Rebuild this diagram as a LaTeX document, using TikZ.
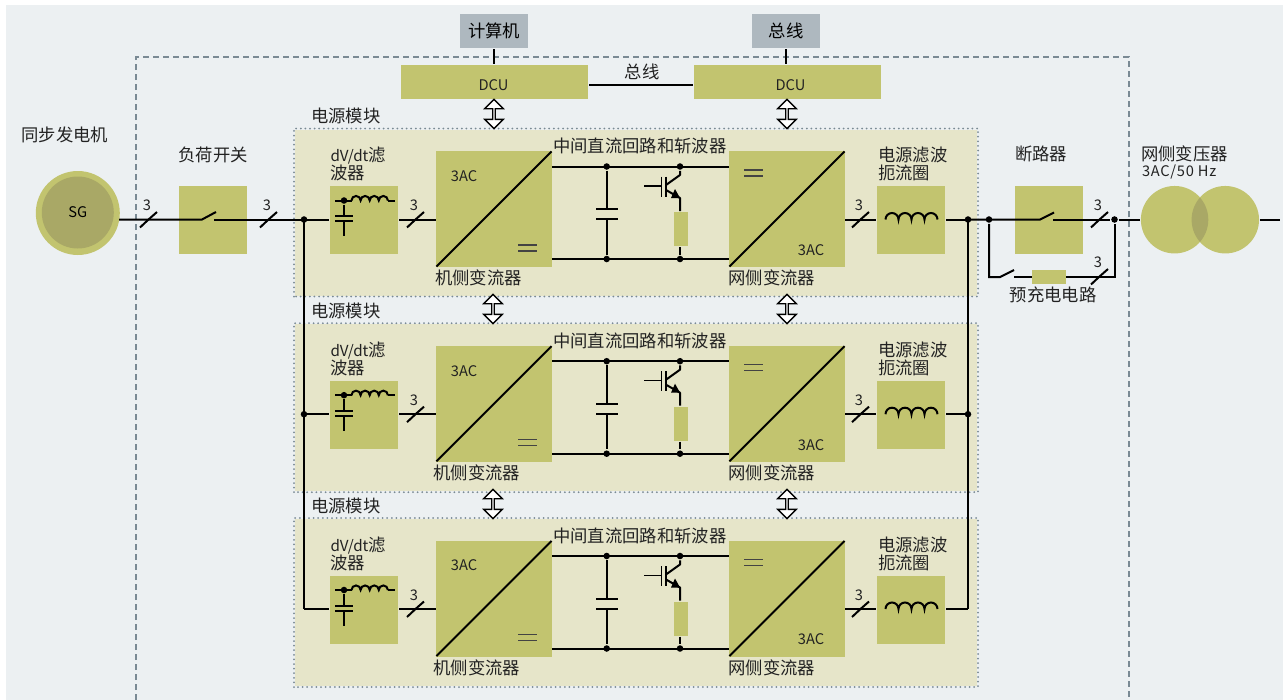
\documentclass[tikz,border=0pt]{standalone}
\usepackage{fontspec}
\setmainfont{Noto Sans CJK SC}
\usepackage{color}
\usetikzlibrary{calc,shapes}
\definecolor{panelBg}{HTML}{ECF0F2}
\definecolor{moduleBg}{HTML}{E6E5C9}
\definecolor{blockBg}{HTML}{C2C46F}
\definecolor{overlapBg}{HTML}{A9A866}
\definecolor{hostBg}{HTML}{AEB8BF}
\definecolor{borderGray}{HTML}{7A8A94}
\definecolor{textDark}{HTML}{222222}
\tikzset{
  block/.style={fill=blockBg,inner sep=0pt,minimum width=51pt,minimum height=51pt},
  converter/.style={fill=blockBg,inner sep=0pt,minimum width=87pt,minimum height=87pt},
  dcubox/.style={fill=blockBg,inner sep=0pt,minimum width=140.25pt,minimum height=25.5pt},
  hostbox/.style={fill=hostBg,inner sep=0pt,minimum width=51pt,minimum height=25.5pt,font=\labelfont},
  resistor/.style={fill=blockBg,inner sep=0pt,minimum width=10.5pt,minimum height=25.5pt},
  junction/.style={circle,fill=black,inner sep=0pt,minimum size=4.9pt},
  label/.style={inner sep=0pt,text=textDark,font=\labelfont,align=left},
  latin/.style={inner sep=0pt,text=textDark,font=\latinfont},
  updown/.style={draw,line width=1pt,fill=white,double arrow,shape border rotate=90,inner sep=0pt,
    minimum width=14pt,minimum height=22pt,double arrow head extend=3.2pt,double arrow tip angle=90},
}
\newcommand{\labelfont}{\fontsize{13}{13.5}\selectfont}
\newcommand{\latinfont}{\fontsize{11}{12}\selectfont}
% phase mark on a wire: slash and the number 3
\newcommand{\tikzPhaseMark}[2]{
  \path[draw] (#2) -- ++(-8.5,8) (#2) -- ++(8.5,-7.5);
  \node [latin] (#1) at ($(#2)+(-1.5,-14)$) {3};
}
\newcommand{\tikzCoil}[3]{
  \path[draw] (#1) arc[start angle=180,end angle=360,radius=#2]
    arc[start angle=180,end angle=360,radius=#2]
    arc[start angle=180,end angle=360,radius=#2]
    arc[start angle=180,end angle=360,radius=#2];
}
\newcommand{\tikzEquals}[1]{
  \path[draw,line width=1pt,color=textDark!85] (#1) ++(-9.5,-3) -- ++(19,0) ++(-19,6) -- ++(19,0);
}
\begin{document}
\begin{tikzpicture}[line width=1.5pt,x=0.75pt,y=-0.75pt]
  \useasboundingbox (0,0) rectangle (1283,700);
  \fill[panelBg] (6,5) rectangle (1283,700);
  \path[draw,color=borderGray,dash pattern=on 4.5pt off 3pt] (136,700) -- (136,57) -- (1129,57) -- (1129,700);

  % top row
  \node [hostbox] (host) at (494,31) {计算机};
  \node [hostbox] (bus) at (786,31) {总线};
  \node [dcubox] (dcuA) at (494.5,82) {};
  \node [dcubox] (dcuB) at (787.5,82) {};
  \node [latin] (dcuTextA) at (493.5,85) {DCU};
  \node [latin] (dcuTextB) at (790.5,85) {DCU};
  \node [label] (busText) at (642,72) {总线};
  \path[draw] (host.south) -- (host.south |- dcuA.north);
  \path[draw] (bus.south) -- (bus.south |- dcuB.north);
  \path[draw] (dcuTextA -| dcuA.east) -- (dcuTextA -| dcuB.west);

  % generator and load switch
  \node [circle,fill=blockBg,inner sep=0pt,minimum size=63pt] (sg) at (77.8,213) {};
  \node [circle,fill=overlapBg,inner sep=0pt,minimum size=54pt,font=\latinfont] (sgIn) at (77.8,212.5) {SG};
  \node [label] (sgText) at (65,135) {同步发电机};
  \node [block] (load) at (213,219.5) {};
  \node [label] (loadText) at (213,155) {负荷开关};
  \coordinate (sgOut) at (119,219.5);
  \coordinate (loadA) at (202,219.5);
  \coordinate (loadB) at (216,212);
  \coordinate (loadC) at (214,219.5);

  % the three power modules
  \foreach \m/\dy/\h/\rx in {1/0/166/434,2/194.7/167/432.5,3/389.5/167/432.5} {
    \begin{scope}[shift={(0,\dy)}]
      \node [fill=moduleBg,inner sep=0pt,minimum width=511.5pt,minimum height=\h*0.75pt] (mod\m) at (636,129.5+\h/2) {};
      \path[draw,color=borderGray,line cap=round,line width=1.5pt,dash pattern=on 0pt off 3.45pt]
        (mod\m.south west) rectangle (mod\m.north east);
      \node [label,anchor=west] (modText\m) at (310,116) {电源模块};
      \node [label,anchor=north west] (filtText\m) at (329.5,146) {{\fontsize{11.4}{13.5}\selectfont dV/dt}滤\\波器};
      \node [label,anchor=west] (dcText\m) at (552,146) {中间直流回路和斩波器};
      \node [label,anchor=north west] (chokeText\m) at (877,146) {电源滤波\\扼流圈};
      \node [block] (filt\m) at (364,220) {};
      \node [converter] (rec\m) at (494,209) {};
      \node [converter] (inv\m) at (787,209) {};
      \node [block] (choke\m) at (911,220) {};
      \node [label,anchor=west] (recText\m) at (\rx,278) {机侧变流器};
      \node [label,anchor=west] (invText\m) at (727.5,278) {网侧变流器};
      \node [latin] (recAc\m) at (464,176) {3AC};
      \node [latin] (invAc\m) at (811,250) {3AC};
      \path[draw,shorten <=1.5pt,shorten >=1.5pt] (rec\m.south west) -- (rec\m.north east);
      \path[draw,shorten <=1.5pt,shorten >=1.5pt] (inv\m.south west) -- (inv\m.north east);
      \tikzEquals{527.5,248}
      \tikzEquals{753.5,173}
      % ports
      \coordinate (busL\m) at (304,219.5);
      \coordinate (busR\m) at (968,219.5);
      \coordinate (recIn\m) at (436,219.5);
      \coordinate (recT\m) at (552,166.5);
      \coordinate (recB\m) at (552,259);
      \coordinate (invT\m) at (729,166.5);
      \coordinate (invB\m) at (729,259);
      \coordinate (invOut\m) at (845,219.5);
      \path[draw] (busL\m) -- (busL\m -| filt\m.west);
      \path[draw] (busL\m -| filt\m.east) -- (recIn\m);
      \path[draw] (invOut\m) -- (busL\m -| choke\m.west);
      \path[draw] (busL\m -| choke\m.east) -- (busR\m);
      \path[draw] (recT\m) -- (invT\m);
      \path[draw] (recB\m) -- (invB\m);
      \tikzPhaseMark{recMark\m}{415.5,219.5}
      \tikzPhaseMark{invMark\m}{860.5,219.5}
      % filter inside
      \node [junction] (filtDot\m) at (344,200.5) {};
      \coordinate (filtA\m) at (335,200.5);
      \coordinate (filtB\m) at (351.5,200.5);
      \coordinate (filtC\m) at (388,200.5);
      \coordinate (filtD\m) at (395,200.5);
      \path[draw] (filtA\m) -- (filtB\m) (filtC\m) -- (filtD\m);
      \tikzCoil{filtB\m}{4.55}{}
      \coordinate (filtP\m) at (344,216);
      \coordinate (filtQ\m) at (344,221);
      \path[draw] (filtDot\m) -- (filtP\m) (filtQ\m) -- (344,236);
      \path[draw] (335,216) -- (353,216) (335,221) -- (353,221);
      % dc link capacitor
      \node [junction] (capT\m) at (606.7,166.5) {};
      \node [junction] (capB\m) at (606.7,259) {};
      \coordinate (capP\m) at (606.7,209);
      \coordinate (capQ\m) at (606.7,219);
      \path[draw] (capT\m) -- (capP\m) (capQ\m) -- (capB\m);
      \path[draw] (596,209) -- (617.5,209) (596,219) -- (617.5,219);
      % chopper
      \node [junction] (chopT\m) at (680,166.5) {};
      \node [junction] (chopB\m) at (680,259) {};
      \node [resistor] (chopR\m) at (681,229) {};
      \path[draw] (chopR\m.south -| chopB\m) -- (chopB\m);
      \path[draw,line width=1.1pt] (644,186) -- (661.7,186) (661.7,176.5) -- (661.7,196.5);
      \path[draw,line width=1.1pt] (666,176.5) -- (666,196.5);
      \path[draw,line join=round] (chopT\m) -- (680,175) -- (666,185);
      \path[draw,line join=round] (666,190) -- (680,198) -- (chopR\m.north -| chopT\m);
      \fill (680,198) -- (671,198) -- (675,189) -- cycle;
      % choke coil
      \coordinate (chokeA\m) at (885.5,219.5);
      \tikzCoil{chokeA\m}{6.5}{}
    \end{scope}
  }

  % buses
  \path[draw] (sgOut) -- (loadA) -- (loadB);
  \path[draw] (loadC) -- (load.east |- loadC) -- (busL1);
  \path[draw,line join=round] (busL1) -- (busL3);
  \path[draw,line join=round] (busR1) -- (busR3);
  \node [junction] (dotL1) at (busL1) {};
  \node [junction] (dotL2) at (busL2) {};
  \node [junction] (dotR1) at (busR1) {};
  \node [junction] (dotR2) at (busR2) {};
  \tikzPhaseMark{sgMark}{148.5,219.5}
  \tikzPhaseMark{loadMark}{268.5,219.5}

  % double arrows to the modules
  \node [updown] (upA1) at (494,114) {};
  \node [updown] (upB1) at (787,114) {};
  \node [updown] (upA2) at (493,309) {};
  \node [updown] (upB2) at (787,309) {};
  \node [updown] (upA3) at (493,504) {};
  \node [updown] (upB3) at (787,504) {};

  % breaker and precharge
  \node [block] (brk) at (1049,220) {};
  \node [label] (brkText) at (1041,154) {断路器};
  \node [junction] (brkIn) at (989,219.5) {};
  \node [junction] (brkOut) at (1114.5,219.5) {};
  \coordinate (brkA) at (1040,219.5);
  \coordinate (brkB) at (1054,212.5);
  \coordinate (brkC) at (1053,219.5);
  \node [label] (preText) at (1053,295) {预充电电路};
  \coordinate (preA) at (1000,277);
  \coordinate (preB) at (1014,270);
  \coordinate (preC) at (1014,277);
  \coordinate (preD) at (1114.5,277);
  \path[draw] (busR1) -- (brkA) -- (brkB);
  \path[draw] (brkC) -- (brkOut);
  \path[draw,line join=miter] (brkIn) -- (brkIn |- preA) -- (preA) -- (preB);
  \path[draw,line join=miter] (preC) -- (preD) -- (brkOut);
  \node [fill=blockBg,inner sep=0pt,minimum width=25.5pt,minimum height=10.5pt] (preR) at (1049,277) {};
  \tikzPhaseMark{brkMark}{1099.5,219.5}
  \tikzPhaseMark{preMark}{1099.5,276.5}

  % grid transformer
  \node [label,anchor=west] (trText) at (1140,154) {网侧变压器};
  \node [latin,anchor=west] (trRating) at (1141,172) {\addfontfeature{LetterSpace=5}3AC/50 Hz};
  \node [circle,fill=blockBg,inner sep=0pt,minimum size=50.6pt] (trA) at (1174.6,219.7) {};
  \node [circle,fill=blockBg,inner sep=0pt,minimum size=50.6pt] (trB) at (1225.3,219.7) {};
  \begin{scope}
    \clip (trA.center) circle[radius=33.7];
    \fill[overlapBg] (trB.center) circle[radius=33.7];
  \end{scope}
  \coordinate (trEnd) at (1280,219.5);
  \path[draw] (brkOut) -- (brkOut -| trA.west);
  \path[draw] (trB.east |- trEnd) -- (trEnd);
\end{tikzpicture}
\end{document}
